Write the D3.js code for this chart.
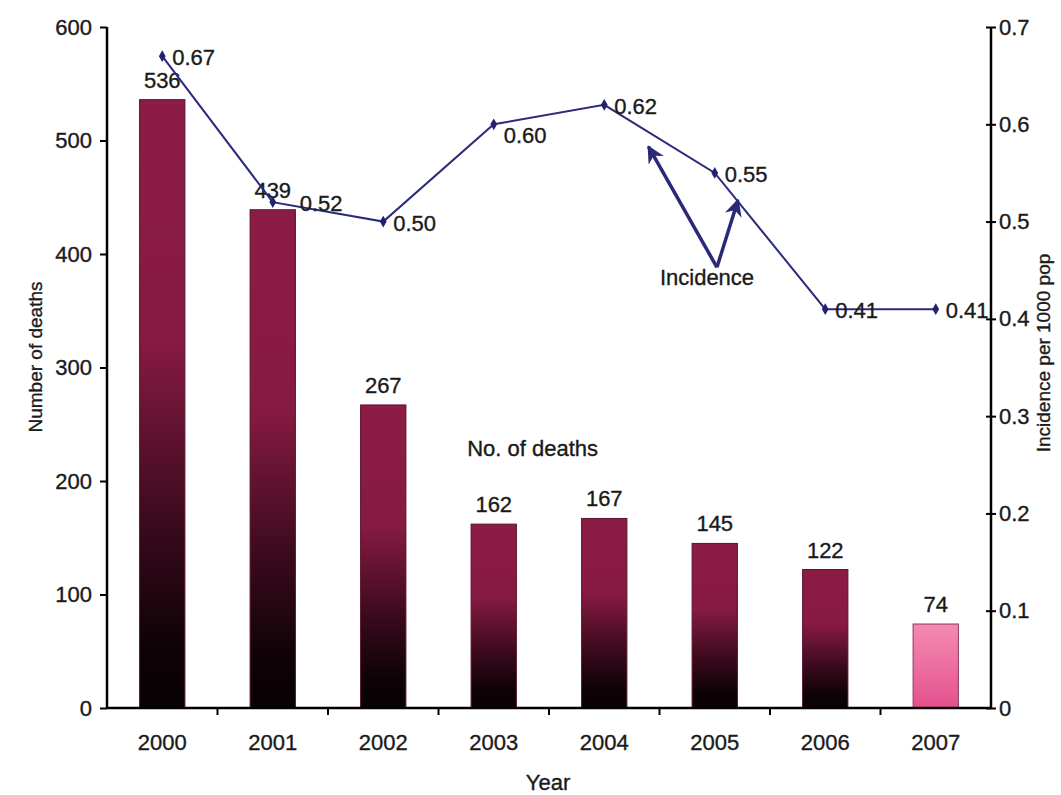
<!DOCTYPE html>
<html>
<head>
<meta charset="utf-8">
<script src="https://cdn.jsdelivr.net/npm/d3@7"></script>
<style>
  html, body { margin: 0; padding: 0; background: #fff; }
  svg { display: block; font-family: "Liberation Sans", Arial, sans-serif; }
  text { fill: #1a1a1a; stroke: #1a1a1a; stroke-width: 0.35px; }
</style>
</head>
<body>
<svg id="chart" width="1061" height="795"></svg>
<script>
// ---- data ----
const years = ["2000", "2001", "2002", "2003", "2004", "2005", "2006", "2007"];
const deaths = [536, 439, 267, 162, 167, 145, 122, 74];
const incidence = [0.67, 0.52, 0.50, 0.60, 0.62, 0.55, 0.41, 0.41];
const incidenceLabels = ["0.67", "0.52", "0.50", "0.60", "0.62", "0.55", "0.41", "0.41"];
const leftTicks = [0, 100, 200, 300, 400, 500, 600];
const rightTicks = [0, 0.1, 0.2, 0.3, 0.4, 0.5, 0.6, 0.7];
const rightTickLabels = ["0", "0.1", "0.2", "0.3", "0.4", "0.5", "0.6", "0.7"];
// annotation arrows: positions in (category index, incidence value)
const arrowVertex = { i: 5.02, v: 0.453 };
const arrowTips = [{ i: 4.40, v: 0.577 }, { i: 5.21, v: 0.522 }];

const W = 1061, H = 795;
const m = { top: 27, right: 70, bottom: 87, left: 107 };
const svg = d3.select("#chart");

const x = d3.scaleBand().domain(years).range([m.left, W - m.right]).paddingInner(0.59).paddingOuter(0.295);
const xb = d3.scaleBand().domain(years).range([m.left, W - m.right]);
const yL = d3.scaleLinear().domain([0, 600]).range([H - m.bottom, m.top]);
const yR = d3.scaleLinear().domain([0, 0.7]).range([H - m.bottom, m.top]);
const xi = i => xb(years[0]) + xb.bandwidth() * (i + 0.5);

const defs = svg.append("defs");
const g1 = defs.append("linearGradient").attr("id", "gDark").attr("x1", 0).attr("y1", 0).attr("x2", 0).attr("y2", 1);
[[0, "#8c1c46"], [0.4, "#861a42"], [0.7, "#3a0a1c"], [0.9, "#0e0207"], [1, "#080104"]]
  .forEach(([o, c]) => g1.append("stop").attr("offset", o).attr("stop-color", c));
const g2 = defs.append("linearGradient").attr("id", "gPink").attr("x1", 0).attr("y1", 0).attr("x2", 0).attr("y2", 1);
[[0, "#f58bb2"], [1, "#e4518d"]].forEach(([o, c]) => g2.append("stop").attr("offset", o).attr("stop-color", c));
defs.append("marker").attr("id", "ah").attr("viewBox", "0 0 10 10").attr("refX", 9).attr("refY", 5)
  .attr("markerWidth", 5).attr("markerHeight", 5).attr("orient", "auto").attr("markerUnits", "strokeWidth")
  .append("path").attr("d", "M0,0 L10,5 L0,10 L3,5 Z").attr("fill", "#2a2878").style("stroke", "none");

// bars
svg.append("g").selectAll("rect").data(deaths).join("rect")
  .attr("x", (d, i) => x(years[i]))
  .attr("y", d => yL(d))
  .attr("width", x.bandwidth())
  .attr("height", d => yL(0) - yL(d))
  .attr("fill", (d, i) => i === years.length - 1 ? "url(#gPink)" : "url(#gDark)")
  .attr("stroke", (d, i) => i === years.length - 1 ? "#8a3a5c" : "#5a1230")
  .attr("stroke-width", 1);

// bar labels
svg.append("g").selectAll("text").data(deaths).join("text")
  .attr("x", (d, i) => x(years[i]) + x.bandwidth() / 2)
  .attr("y", d => yL(d) - 12)
  .attr("text-anchor", "middle").attr("font-size", 22)
  .text(d => d);

// axes
const axL = svg.append("g").attr("transform", `translate(${m.left},0)`)
  .call(d3.axisLeft(yL).tickValues(leftTicks).tickSize(7).tickPadding(8));
const axR = svg.append("g").attr("transform", `translate(${W - m.right},0)`)
  .call(d3.axisRight(yR).tickValues(rightTicks).tickFormat((d, i) => rightTickLabels[i]).tickSize(5).tickPadding(3));
axR.selectAll(".tick line").attr("x1", -5);
const axB = svg.append("g").attr("transform", `translate(0,${H - m.bottom})`)
  .call(d3.axisBottom(x).tickSize(0).tickPadding(26));
// ticks between categories
svg.append("g").selectAll("line").data(years.slice(1)).join("line")
  .attr("x1", d => xb(d)).attr("x2", d => xb(d))
  .attr("y1", H - m.bottom).attr("y2", H - m.bottom + 7)
  .attr("stroke", "#000").attr("stroke-width", 2);
[axL, axR, axB].forEach(a => {
  a.select(".domain").attr("stroke", "#000").attr("stroke-width", 2.5);
  a.selectAll(".tick line").attr("stroke", "#000").attr("stroke-width", 2);
  a.selectAll(".tick text").attr("font-size", 22).attr("font-family", "Liberation Sans, Arial, sans-serif");
});
axL.select(".domain").attr("d", `M0,${yL(600)}V${yL(0)}`);
axR.select(".domain").attr("d", `M0,${yR(0.7)}V${yR(0)}`);
axB.select(".domain").attr("d", `M${m.left},0H${W - m.right}`);
axR.selectAll(".tick text").attr("dy", "0.32em");

// incidence line
const line = d3.line().x((d, i) => xb(years[i]) + xb.bandwidth() / 2).y(d => yR(d));
svg.append("path").datum(incidence).attr("d", line)
  .attr("fill", "none").attr("stroke", "#2c2a7c").attr("stroke-width", 2);
svg.append("g").selectAll("path").data(incidence).join("path")
  .attr("d", d3.symbol(d3.symbolDiamond, 40))
  .attr("transform", (d, i) => `translate(${xb(years[i]) + xb.bandwidth() / 2},${yR(d)})`)
  .attr("fill", "#23216e");
// label placement: pushed right where a bar label sits, dropped below where the line rises
svg.append("g").selectAll("text").data(incidence).join("text")
  .attr("x", (d, i) => xb(years[i]) + xb.bandwidth() / 2 + (i === 1 ? 27 : 10))
  .attr("y", (d, i) => yR(d) + (i === 3 ? 19 : 9))
  .attr("font-size", 22)
  .text((d, i) => incidenceLabels[i]);

// annotation arrows
svg.append("g").selectAll("line").data(arrowTips).join("line")
  .attr("x1", xi(arrowVertex.i)).attr("y1", yR(arrowVertex.v))
  .attr("x2", d => xi(d.i)).attr("y2", d => yR(d.v))
  .attr("stroke", "#2a2878").attr("stroke-width", 3.5).attr("marker-end", "url(#ah)");
svg.append("text").attr("x", xi(4.93)).attr("y", yR(0.435)).attr("text-anchor", "middle")
  .attr("font-size", 22).text("Incidence");
svg.append("text").attr("x", xi(2.76)).attr("y", yL(222)).attr("text-anchor", "start")
  .attr("font-size", 22).text("No. of deaths");

// axis titles
svg.append("text").attr("transform", `translate(42,357) rotate(-90)`).attr("text-anchor", "middle")
  .attr("font-size", 19).text("Number of deaths");
svg.append("text").attr("transform", `translate(1050,353) rotate(-90)`).attr("text-anchor", "middle")
  .attr("font-size", 19).text("Incidence per 1000 pop");
svg.append("text").attr("x", 548).attr("y", 790).attr("text-anchor", "middle")
  .attr("font-size", 22).text("Year");
</script>
</body>
</html>
